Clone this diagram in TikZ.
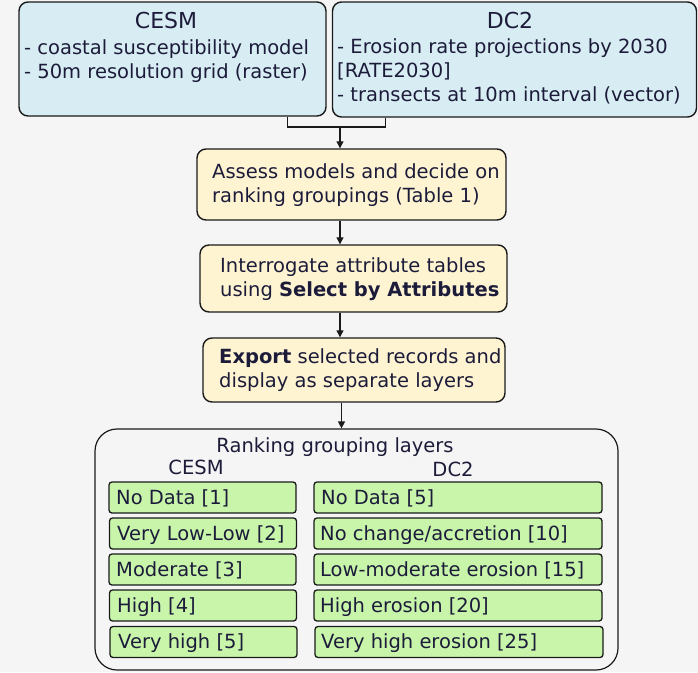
\documentclass[tikz,border=0pt]{standalone}
\usepackage{fontspec}
\setmainfont{DejaVu Sans}
\usetikzlibrary{arrows.meta}
\definecolor{bg}{HTML}{F5F5F5}
\definecolor{bluef}{HTML}{D8EDF3}
\definecolor{creamf}{HTML}{FFF4D2}
\definecolor{greenf}{HTML}{C8F5AA}
\definecolor{ink}{HTML}{1C1C3A}
\definecolor{edge}{HTML}{1A1A1A}
\begin{document}
\begin{tikzpicture}[x=1pt,y=-1pt,
  box/.style={draw=edge, line width=1.4pt, rounded corners=9pt, inner sep=0pt},
  bluebox/.style={box, fill=bluef},
  creambox/.style={box, fill=creamf},
  rankbox/.style={draw=edge, line width=1.2pt, rounded corners=22pt, fill=bg, inner sep=0pt},
  greenbox/.style={draw=edge, line width=1.3pt, rounded corners=3pt, fill=greenf, inner sep=0pt, minimum height=31pt},
  txt/.style={anchor=base west, inner sep=0pt, text=ink, font=\fontsize{19.5}{24}\selectfont},
  ctxt/.style={anchor=base, inner sep=0pt, text=ink, font=\fontsize{19.5}{24}\selectfont},
  ttl/.style={anchor=base, inner sep=0pt, text=ink, font=\fontsize{22}{26}\selectfont},
  conn/.style={draw=edge, line width=1.2pt},
  arr/.style={conn, -{Triangle[length=7pt,width=7pt]}}]
\fill[bg] (0,0) rectangle (698,672);
\useasboundingbox (0,0) rectangle (698,672);

% source boxes
\node[bluebox, minimum width=307pt, minimum height=114pt] (cesm) at (172.5,59) {};
\node[ttl] (cesmT) at (166,28) {CESM};
\node[txt] (cesmA) at (24,54) {- coastal susceptibility model};
\node[txt] (cesmB) at (24,78) {- 50m resolution grid (raster)};

\node[bluebox, minimum width=364pt, minimum height=115pt] (dc2) at (514.5,59.5) {};
\node[ttl] (dcT) at (510,28) {DC2};
\node[txt] (dcA) at (337,53) {- Erosion rate projections by 2030};
\node[txt] (dcB) at (337,77) {[RATE2030]};
\node[txt] (dcC) at (337,101) {- transects at 10m interval (vector)};

% process boxes
\node[creambox, minimum width=309pt, minimum height=71pt] (assess) at (351.5,184.5) {};
\node[txt] (asA) at (212,178) {Assess models and decide on};
\node[txt] (asB) at (212,202) {ranking groupings (Table 1)};

\node[creambox, minimum width=307pt, minimum height=67pt] (inter) at (353.5,278.5) {};
\node[txt] (inA) at (220,272) {Interrogate attribute tables};
\node[txt] (inB) at (220,296) {using \textbf{Select by Attributes}};

\node[creambox, minimum width=302pt, minimum height=64pt] (export) at (354,370) {};
\node[txt] (exA) at (219,363) {\textbf{Export} selected records and};
\node[txt] (exB) at (219,387) {display as separate layers};

% ranking container
\node[rankbox, minimum width=523pt, minimum height=241pt] (rank) at (356.5,549.5) {};
\node[ctxt] (rankT) at (335,452) {Ranking grouping layers};
\node[ctxt] (rankC) at (196,474) {CESM};
\node[ctxt] (rankD) at (453,476) {DC2};

% CESM layers
\node[greenbox, minimum width=187pt] (c1) at (202.5,497.5) {};
\node[greenbox, minimum width=187pt] (c2) at (203,533.5) {};
\node[greenbox, minimum width=187pt] (c3) at (202.5,569.5) {};
\node[greenbox, minimum width=187pt] (c4) at (203,605.5) {};
\node[greenbox, minimum width=187pt] (c5) at (203.5,642) {};
\node[txt] at (116,504) {No Data [1]};
\node[txt] at (117,540) {Very Low-Low [2]};
\node[txt] at (116,576) {Moderate [3]};
\node[txt] at (117,612) {High [4]};
\node[txt] at (118,648) {Very high [5]};

% DC2 layers
\node[greenbox, minimum width=288pt] (d1) at (458,497.5) {};
\node[greenbox, minimum width=288pt] (d2) at (458,533.5) {};
\node[greenbox, minimum width=288pt] (d3) at (458,569.5) {};
\node[greenbox, minimum width=288pt] (d4) at (458,605.5) {};
\node[greenbox, minimum width=288pt] (d5) at (459,642) {};
\node[txt] at (321,504) {No Data [5]};
\node[txt] at (320,540) {No change/accretion [10]};
\node[txt] at (320,576) {Low-moderate erosion [15]};
\node[txt] at (320,612) {High erosion [20]};
\node[txt] at (321,648) {Very high erosion [25]};

% connectors
\coordinate (j) at (340,127);
\draw[conn] ([xshift=-39pt]cesm.south east) |- (j) -| ([xshift=54pt]dc2.south west);
\draw[arr] (j) -- (j |- assess.north);
\draw[arr] ([xshift=-11.5pt]assess.south) -- ([xshift=-11.5pt]assess.south |- inter.north);
\draw[arr] ([xshift=-13.5pt]inter.south) -- ([xshift=-13.5pt]inter.south |- export.north);
\draw[arr] ([xshift=-12.5pt]export.south) -- ([xshift=-12.5pt]export.south |- rank.north);
\end{tikzpicture}
\end{document}
